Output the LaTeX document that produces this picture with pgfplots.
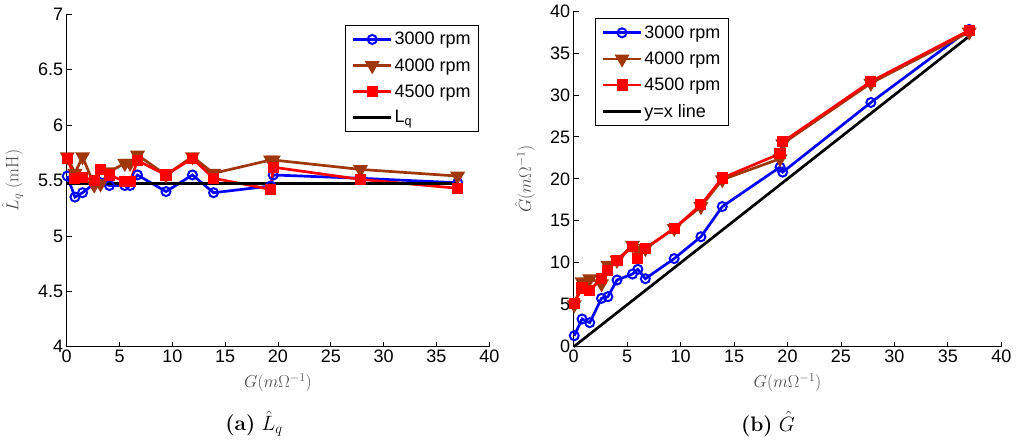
\documentclass[border=0pt]{standalone}
\usepackage{pgfplots}
\pgfplotsset{compat=1.18}
\usepackage{fontspec}
\newfontfamily\arial{Liberation Sans}
\definecolor{mbrown}{RGB}{160,55,10}
\definecolor{lblgray}{gray}{0.3}
\begin{document}
\begin{tikzpicture}
\path[use as bounding box] (0pt,0pt) rectangle (1024pt,445pt);
\pgfplotsset{
  every axis/.append style={
    scale only axis,
    axis lines*=left,
    tick align=inside,
    major tick length=5pt,
    xmin=0,xmax=40,
    xtick={0,5,...,40},
    /pgf/number format/assume math mode=true,
    tick label style={font=\arial\fontsize{18}{20}\selectfont, black},
    label style={font=\fontsize{18}{20}\selectfont, text=lblgray},
    xlabel style={yshift=-4pt},
    ylabel style={yshift=8pt},
    legend style={font=\arial\fontsize{18}{20}\selectfont, draw=black, line width=0.8pt, inner xsep=6pt, inner ysep=5pt, row sep=8pt},
    legend cell align=left,
    legend image code/.code={\draw[mark repeat=2,mark phase=2,#1] plot coordinates {(0pt,0pt) (19pt,0pt) (38pt,0pt)};},
    every axis plot/.append style={line width=2.7pt},
    axis line style={line width=0.8pt},
    tick style={line width=0.8pt, black},
    clip=false,
  },
  s3000/.style={blue, mark=o, mark size=4.5pt, mark options={solid, line width=2pt, fill=none}},
  s4000/.style={mbrown, mark=triangle*, mark size=6pt, mark options={solid, rotate=180, fill=mbrown}},
  s4500/.style={red, mark=square*, mark size=4.2pt, mark options={solid, fill=red}},
}
% Left axis
\begin{axis}[
  at={(66.7pt,98.3pt)}, anchor=south west,
  width=422.6pt, height=332.4pt,
  ymin=4, ymax=7, ytick={4,4.5,...,7},
  yticklabels={4,4.5,5,5.5,6,6.5,7},
  xlabel={$G(m\Omega^{-1})$},
  ylabel={$\hat{L}_q\ (\mathrm{mH})$},
  legend style={at={(0.9757,0.9678)}, anchor=north east},
]
\addplot[s3000] coordinates {
(0.05,5.54) (0.78,5.35) (1.5,5.39) (2.6,5.47) (3.2,5.48) (4.05,5.455) (5.5,5.455) (6.0,5.455) (6.7,5.55) (9.4,5.40) (11.9,5.55) (13.9,5.39) (19.3,5.45) (19.55,5.55) (27.8,5.52) (37.0,5.48)};
\addlegendentry{3000 rpm}
\addplot[s4000] coordinates {
(0.05,5.715) (0.78,5.565) (1.5,5.715) (2.6,5.46) (3.2,5.47) (4.05,5.58) (5.5,5.655) (6.0,5.655) (6.7,5.73) (9.4,5.55) (11.9,5.715) (13.9,5.565) (19.3,5.685) (19.55,5.685) (27.8,5.60) (37.0,5.54)};
\addlegendentry{4000 rpm}
\addplot[s4500] coordinates {
(0.05,5.70) (0.78,5.52) (1.5,5.53) (2.6,5.50) (3.2,5.60) (4.05,5.55) (5.5,5.49) (6.0,5.49) (6.7,5.68) (9.4,5.55) (11.9,5.70) (13.9,5.52) (19.3,5.42) (19.55,5.62) (27.8,5.51) (37.0,5.43)};
\addlegendentry{4500 rpm}
\addplot[black, line width=2.7pt] coordinates {(0,5.475) (37,5.475)};
\addlegendentry{L\textsubscript{q}}
\end{axis}
% Right axis
\begin{axis}[
  at={(573.7pt,98.3pt)}, anchor=south west,
  width=427.6pt, height=335.7pt,
  ymin=0, ymax=40, ytick={0,5,...,40},
  xlabel={$G(m\Omega^{-1})$},
  ylabel={$\hat{G}(m\Omega^{-1})$},
  legend style={at={(0.0505,0.978)}, anchor=north west},
]
\addplot[s3000] coordinates {
(0.05,1.31) (0.78,3.3) (1.5,2.86) (2.6,5.76) (3.2,5.96) (4.05,7.95) (5.5,8.66) (6.0,9.22) (6.7,8.1) (9.4,10.5) (11.9,13.1) (13.9,16.7) (19.3,21.4) (19.55,20.8) (27.8,29.1) (37.0,37.8)};
\addlegendentry{3000 rpm}
\addplot[s4000] coordinates {
(0.05,5.0) (0.78,7.75) (1.5,8.1) (2.6,7.5) (3.2,9.7) (4.05,10.3) (5.5,12.1) (6.0,11.5) (6.7,11.7) (9.4,14.1) (11.9,16.7) (13.9,19.9) (19.3,22.4) (19.55,24.2) (27.8,31.4) (37.0,37.5)};
\addlegendentry{4000 rpm}
\addplot[s4500] coordinates {
(0.05,5.2) (0.78,7.0) (1.5,6.75) (2.6,8.1) (3.2,9.1) (4.05,10.3) (5.5,11.9) (6.0,10.5) (6.7,11.7) (9.4,14.1) (11.9,16.9) (13.9,20.1) (19.3,23.0) (19.55,24.4) (27.8,31.6) (37.0,37.7)};
\addlegendentry{4500 rpm}
\addplot[black, line width=2.7pt] coordinates {(0,0) (37,37)};
\addlegendentry{y=x line}
\end{axis}
\node[font=\fontsize{21}{24}\selectfont] at (254pt,21pt) {\textbf{(a)} $\hat{L}_q$};
\node[font=\fontsize{21}{24}\selectfont] at (768pt,21pt) {\textbf{(b)} $\hat{G}$};
\end{tikzpicture}
\end{document}
